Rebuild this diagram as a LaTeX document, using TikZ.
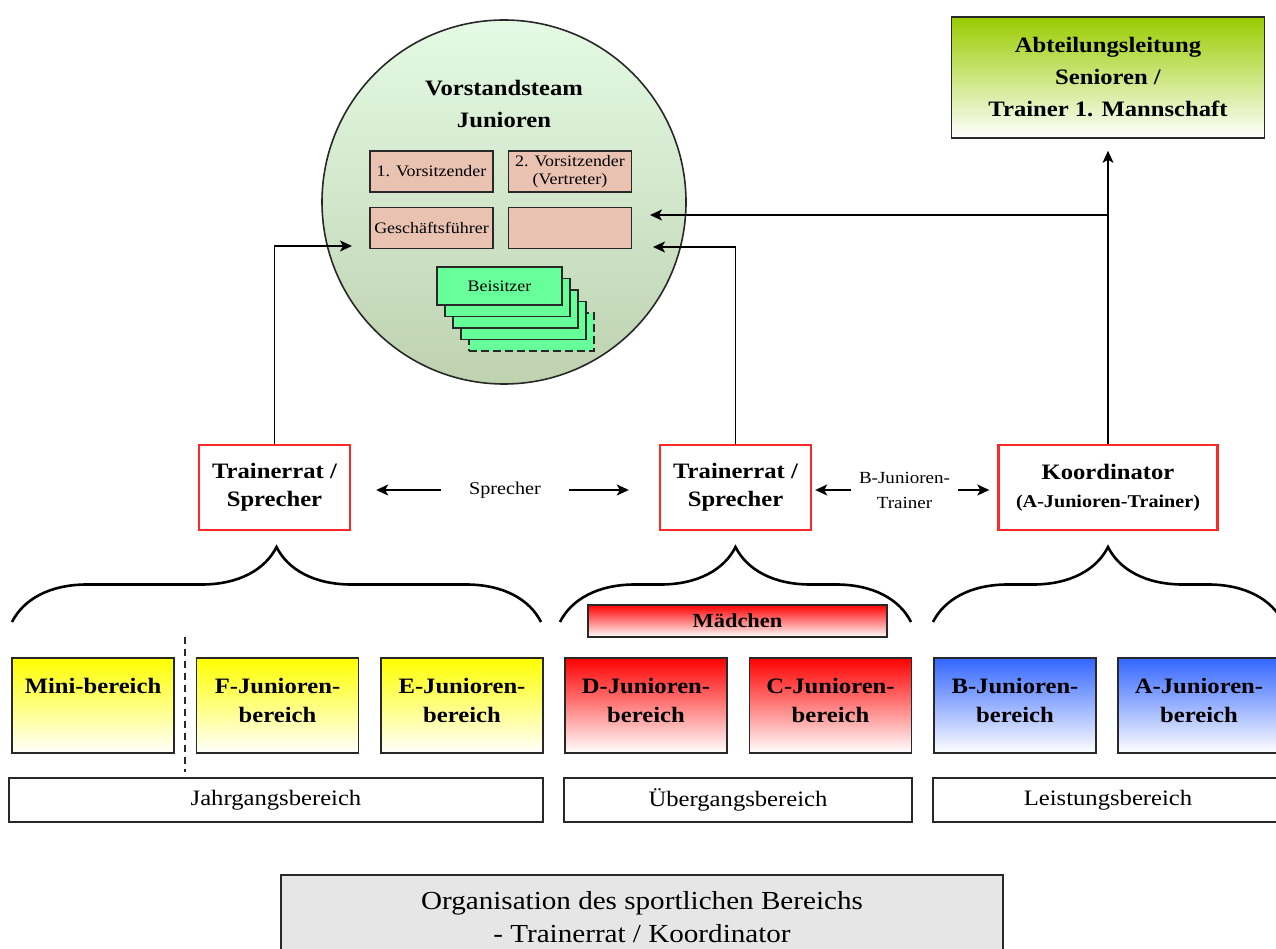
\documentclass[tikz,border=0pt]{standalone}
\usepackage{fontspec}
\setmainfont[FakeStretch=1.12]{Liberation Serif}
\usetikzlibrary{arrows.meta,decorations.pathreplacing,positioning}

\definecolor{lineGray}{RGB}{40,40,40}
\definecolor{boardTop}{RGB}{228,250,228}
\definecolor{boardBottom}{RGB}{190,210,176}
\definecolor{roleFill}{RGB}{234,194,178}
\definecolor{seatFill}{RGB}{102,255,153}
\definecolor{headGreen}{RGB}{153,204,0}
\definecolor{miniYellow}{RGB}{255,255,0}
\definecolor{girlRed}{RGB}{255,0,0}
\definecolor{perfBlue}{RGB}{51,102,255}
\definecolor{frameRed}{RGB}{255,40,40}
\definecolor{noteGray}{RGB}{230,230,230}

\newcommand{\bigBold}{\fontsize{22}{29}\selectfont\bfseries}
\newcommand{\smallText}{\fontsize{16}{18}\selectfont}

\tikzset{
  box/.style={draw=lineGray, line width=1.6pt, inner sep=0pt},
  rolebox/.style={box, fill=roleFill, minimum width=123pt, minimum height=41pt, align=center, font=\smallText},
  seatbox/.style={box, fill=seatFill, minimum width=125pt, minimum height=38pt, font=\smallText},
  trbox/.style={draw=frameRed, line width=2.4pt, minimum height=85pt, inner sep=0pt, align=center, font={\fontsize{22}{28}\selectfont\bfseries}},
  catbox/.style={box, minimum width=162pt, minimum height=95pt, top color=#1, bottom color=white},
  cattext/.style={anchor=north, yshift=-21pt, inner sep=0pt, align=center, font=\bigBold},
  areabox/.style={box, minimum height=44pt, font=\fontsize{22}{24}\selectfont},
  arr/.style={line width=1.6pt, -{Stealth[length=12pt,width=11pt,inset=3pt]}},
  brc/.style={line width=2.6pt, decorate, decoration={brace, amplitude=75pt}}
}

\begin{document}
\begin{tikzpicture}[x=1pt,y=-1pt]
  \useasboundingbox (0,0) rectangle (1276,949);
  \clip (0,0) rectangle (1276,949);

  % Board of the youth department
  \node[circle, draw=lineGray, line width=1.6pt, minimum size=364pt, top color=boardTop, bottom color=boardBottom] (board) at (504,202) {};
  \node[align=center, font={\fontsize{22}{32}\selectfont\bfseries}] (boardTitle) at (504,104) {Vorstandsteam\\Junioren};
  \node[rolebox] (chair1) at (431.5,171.5) {1. Vorsitzender};
  \node[rolebox] (chair2) at (570,171.5) {2. Vorsitzender\\(Vertreter)};
  \node[rolebox] (manager) at (431.5,228) {Geschäftsführer};
  \node[rolebox] (vacant) at (570,228) {};
  % Stack of assessors, the last one dashed
  \node[seatbox, dash pattern=on 8pt off 4pt] at (531.5,332) {};
  \foreach \k in {3,2,1}{
    \node[seatbox] at (499.5+8*\k, 286+11.5*\k) {};
  }
  \node[seatbox] (seat) at (499.5,286) {Beisitzer};

  % Senior department
  \node[box, minimum width=313pt, minimum height=121pt, top color=headGreen, bottom color=white, align=center, font={\fontsize{22}{32}\selectfont\bfseries}] (head) at (1108,77.5) {Abteilungsleitung\\Senioren /\\Trainer 1. Mannschaft};

  % Coaching councils and coordinator
  \node[trbox, minimum width=151pt] (council1) at (274.5,487.5) {Trainerrat /\\Sprecher};
  \node[trbox, minimum width=151pt] (council2) at (735.5,487.5) {Trainerrat /\\Sprecher};
  \node[trbox, minimum width=219pt] (coord) at (1108,487.5) {Koordinator\\{\fontsize{18}{24}\selectfont(A-Junioren-Trainer)}};

  \node[inner sep=0pt, minimum width=128pt, font={\fontsize{18}{18}\selectfont}] (speaker) at (505,490) {Sprecher};
  \node[inner sep=0pt, minimum width=107pt, align=center, font={\fontsize{17}{25}\selectfont}] (bTrainer) at (904.5,490) {B-Junioren-\\Trainer};

  % Reporting lines
  \coordinate (inLeft) at (352,246);
  \coordinate (inRightTop) at (650,215);
  \coordinate (inRightLow) at (653,247);
  \draw[arr] (council1.north) |- (inLeft);
  \draw[arr] (council2.north) |- (inRightLow);
  \draw[arr, shorten >=12pt] (coord.north) -- (coord.north |- head.south);
  \draw[arr] (coord.north |- inRightTop) -- (inRightTop);

  \draw[arr, shorten >=25pt] (speaker.west) -- (speaker.west -| council1.east);
  \draw[arr, shorten >=30pt] (speaker.east) -- (speaker.east -| council2.west);
  \draw[arr, shorten >=3pt] (bTrainer.west) -- (bTrainer.west -| council2.east);
  \draw[arr, shorten >=8pt] (bTrainer.east) -- (bTrainer.east -| coord.west);

  % Braces under the councils
  \draw[brc] (12,622) -- (541,622);
  \draw[brc] (560,622) -- (911,622);
  \draw[brc] (933,622) -- (1283,622);

  \node[box, minimum width=299pt, minimum height=32pt, top color=girlRed, bottom color=white, font={\fontsize{20}{24}\selectfont\bfseries}] (girls) at (737.5,621) {Mädchen};

  % Age groups
  \foreach \name/\cx/\col/\txt in {
      mini/93/miniYellow/{Mini-bereich},
      fJun/277.5/miniYellow/{F-Junioren-\\bereich},
      eJun/462/miniYellow/{E-Junioren-\\bereich},
      dJun/646/girlRed/{D-Junioren-\\bereich},
      cJun/830.5/girlRed/{C-Junioren-\\bereich},
      bJun/1015/perfBlue/{B-Junioren-\\bereich},
      aJun/1199/perfBlue/{A-Junioren-\\bereich}}{
    \node[catbox=\col] (\name) at (\cx,705.5) {};
    \node[cattext] (\name-text) at (\name.north) {\txt};
  }
  \draw[lineGray, line width=1.6pt, dash pattern=on 7pt off 5pt] (185,637) -- (185,772);

  \node[areabox, minimum width=534pt] (yearArea) at (276,800) {Jahrgangsbereich};
  \node[areabox, minimum width=348pt] (transArea) at (738,800) {Übergangsbereich};
  \node[areabox, minimum width=350pt] (perfArea) at (1108,800) {Leistungsbereich};

  % Caption
  \node[box, fill=noteGray, minimum width=722pt, minimum height=85pt, align=center, font={\fontsize{26}{33}\selectfont}] (note) at (642,917.5) {Organisation des sportlichen Bereichs\\- Trainerrat / Koordinator};
\end{tikzpicture}
\end{document}
